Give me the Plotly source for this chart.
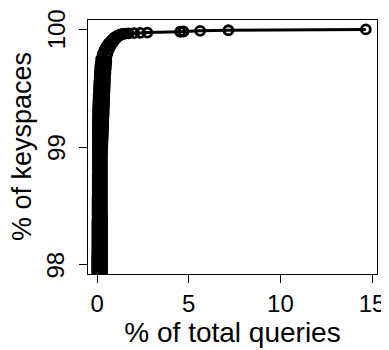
import plotly.graph_objects as go

# % of total queries (x) and cumulative % of keyspaces (y)
pct_queries = [
    0.00, 0.27, 0.00, 0.27, 0.00, 0.27, 0.00, 0.27, 0.00, 0.27,
    0.00, 0.27, 0.00, 0.27, 0.00, 0.27, 0.00, 0.27, 0.00, 0.27,
    0.01, 0.27, 0.01, 0.27, 0.01, 0.27, 0.01, 0.27, 0.01, 0.27,
    0.01, 0.27, 0.01, 0.27, 0.01, 0.27, 0.01, 0.27, 0.01, 0.27,
    0.01, 0.27, 0.01, 0.27, 0.01, 0.27, 0.01, 0.27, 0.02, 0.27,
    0.02, 0.27, 0.02, 0.26, 0.02, 0.26, 0.02, 0.26, 0.02, 0.26,
    0.02, 0.26, 0.02, 0.26, 0.02, 0.26, 0.02, 0.26, 0.03, 0.26,
    0.03, 0.26, 0.03, 0.26, 0.03, 0.26, 0.03, 0.26, 0.03, 0.26,
    0.03, 0.26, 0.03, 0.26, 0.03, 0.26, 0.03, 0.26, 0.04, 0.26,
    0.04, 0.26, 0.04, 0.26, 0.04, 0.26, 0.04, 0.26, 0.04, 0.26,
    0.04, 0.26, 0.04, 0.26, 0.04, 0.27, 0.04, 0.27, 0.04, 0.28,
    0.04, 0.28, 0.04, 0.29, 0.04, 0.29, 0.04, 0.30, 0.04, 0.30,
    0.04, 0.31, 0.04, 0.31, 0.04, 0.32, 0.04, 0.32, 0.04, 0.33,
    0.04, 0.33, 0.04, 0.34, 0.04, 0.34, 0.05, 0.35, 0.05, 0.35,
    0.05, 0.36, 0.05, 0.36, 0.06, 0.37, 0.06, 0.37, 0.07, 0.38,
    0.07, 0.38, 0.08, 0.39, 0.08, 0.39, 0.10, 0.40, 0.10, 0.40,
    0.11, 0.41, 0.11, 0.41, 0.12, 0.42, 0.12, 0.42, 0.14, 0.43,
    0.14, 0.43, 0.15, 0.45, 0.15, 0.45, 0.17, 0.47, 0.17, 0.47,
    0.19, 0.49, 0.20, 0.50,
    0.22, 0.50, 0.30, 0.56, 0.40, 0.64, 0.50, 0.74, 0.62, 0.86,
    0.76, 0.98, 0.92, 1.10, 1.08, 1.24, 1.22, 1.38, 1.40, 1.52,
    1.71, 2.02, 2.35, 2.74, 4.53, 4.71, 5.62, 7.16, 14.66,
]
pct_keyspaces = [
    97.90, 97.91, 97.92, 97.93, 97.94, 97.95, 97.96, 97.97, 97.98, 97.99,
    98.00, 98.01, 98.02, 98.03, 98.04, 98.05, 98.06, 98.07, 98.08, 98.09,
    98.10, 98.11, 98.12, 98.13, 98.14, 98.15, 98.16, 98.17, 98.18, 98.19,
    98.20, 98.21, 98.22, 98.23, 98.24, 98.25, 98.26, 98.27, 98.28, 98.29,
    98.30, 98.31, 98.32, 98.33, 98.34, 98.35, 98.36, 98.37, 98.38, 98.39,
    98.40, 98.41, 98.42, 98.43, 98.44, 98.45, 98.46, 98.47, 98.48, 98.49,
    98.50, 98.51, 98.52, 98.53, 98.54, 98.55, 98.56, 98.57, 98.58, 98.59,
    98.60, 98.61, 98.62, 98.63, 98.64, 98.65, 98.66, 98.67, 98.68, 98.69,
    98.70, 98.71, 98.72, 98.73, 98.74, 98.75, 98.76, 98.77, 98.78, 98.79,
    98.80, 98.81, 98.82, 98.83, 98.84, 98.85, 98.86, 98.87, 98.88, 98.89,
    98.90, 98.91, 98.92, 98.93, 98.94, 98.95, 98.96, 98.97, 98.98, 98.99,
    99.00, 99.01, 99.02, 99.03, 99.04, 99.05, 99.06, 99.07, 99.08, 99.09,
    99.10, 99.11, 99.12, 99.13, 99.14, 99.15, 99.16, 99.17, 99.18, 99.19,
    99.20, 99.21, 99.22, 99.23, 99.24, 99.25, 99.26, 99.27, 99.28, 99.29,
    99.30, 99.31, 99.32, 99.33, 99.34, 99.35, 99.36, 99.37, 99.38, 99.39,
    99.40, 99.41, 99.42, 99.43, 99.44, 99.45, 99.46, 99.47, 99.48, 99.49,
    99.50, 99.51, 99.52, 99.53, 99.54, 99.55, 99.56, 99.57, 99.58, 99.59,
    99.60, 99.61, 99.62, 99.63, 99.64, 99.65, 99.66, 99.67, 99.68, 99.69,
    99.70, 99.71, 99.72, 99.73,
    99.75, 99.76, 99.79, 99.795, 99.825, 99.83, 99.855, 99.86, 99.88, 99.89,
    99.905, 99.915, 99.93, 99.935, 99.945, 99.95, 99.955, 99.96, 99.962, 99.964,
    99.966, 99.968, 99.970, 99.973, 99.980, 99.982, 99.988, 99.993, 100.000,
]
x_ticks = [0, 5, 10, 15]
y_ticks = [98, 99, 100]
y_tick_labels = ["98", "99", "100"]

FONT = "Liberation Sans, Arial, Helvetica, sans-serif"

fig = go.Figure()
fig.add_trace(go.Scatter(
    x=pct_queries, y=pct_keyspaces, mode="lines+markers",
    line=dict(color="black", width=3),
    marker=dict(symbol="circle-open", size=9, color="black",
                line=dict(color="black", width=2.8)),
    cliponaxis=True, showlegend=False,
))

axis_common = dict(
    showgrid=False, zeroline=False, showline=True, mirror=True,
    linecolor="black", linewidth=1, ticks="outside", ticklen=8,
    tickwidth=1, tickcolor="black", automargin=False,
    ticklabeloverflow="allow",
    tickfont=dict(family=FONT, size=24, color="black"),
)
fig.update_xaxes(range=[-0.5, 15.27], tickvals=x_ticks,
                 ticktext=[str(v) for v in x_ticks],
                 title=dict(text="% of total queries", standoff=2,
                            font=dict(family=FONT, size=28, color="black")),
                 **axis_common)
# y tick labels are drawn rotated (reading upward), placed on the y scale
fig.update_yaxes(range=[97.92, 100.08], tickvals=y_ticks,
                 showticklabels=False, **axis_common)

annotations = [dict(
    text=lab, textangle=-90, showarrow=False,
    xref="paper", yref="y", x=-0.111, y=val,
    xanchor="center", yanchor="middle",
    font=dict(family=FONT, size=24, color="black"),
) for val, lab in zip(y_ticks, y_tick_labels)]
annotations.append(dict(
    text="% of keyspaces", textangle=-90, showarrow=False,
    xref="paper", yref="paper", x=-0.228, y=0.5,
    xanchor="center", yanchor="middle",
    font=dict(family=FONT, size=27, color="black"),
))

# the page body has an 8px margin, so the figure is drawn 8px smaller
fig.update_layout(
    width=381, height=342,
    margin=dict(l=80, r=12, t=12, b=76),
    plot_bgcolor="white", paper_bgcolor="white",
    font=dict(family=FONT, color="black"),
    annotations=annotations,
)

fig.write_html("out.html")
